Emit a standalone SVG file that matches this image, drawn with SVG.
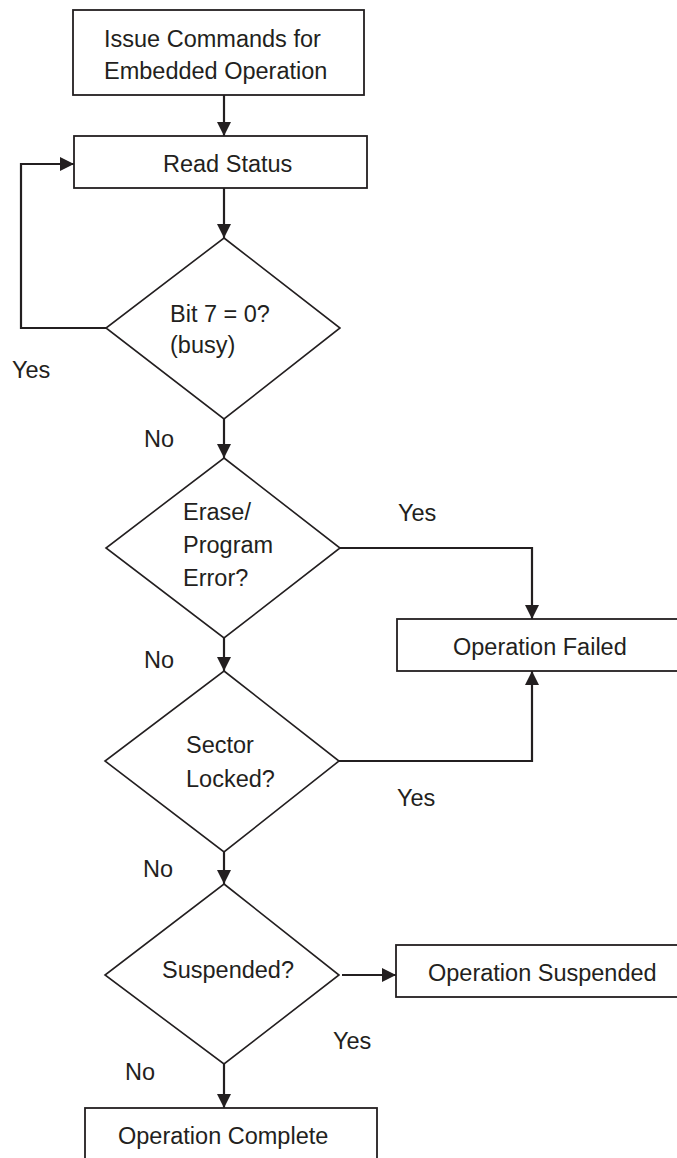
<svg xmlns="http://www.w3.org/2000/svg" width="677" height="1158" viewBox="0 0 677 1158">
<style>
.box{fill:#fff;stroke:#231f20;stroke-width:1.8}
.dia{fill:#fff;stroke:#231f20;stroke-width:1.6}
.t{font-family:"Liberation Sans",Arial,sans-serif;font-size:23.5px;fill:#231f20}
.c{text-anchor:middle}
.conn{fill:none;stroke:#231f20;stroke-width:2.2;marker-end:url(#ah)}
</style>
<defs>
<marker id="ah" markerUnits="userSpaceOnUse" markerWidth="14" markerHeight="14" refX="14" refY="7" orient="auto">
<path d="M0,0 L14,7 L0,14 Z" fill="#231f20"/>
</marker>
</defs>
<rect width="677" height="1158" fill="#fff"/>
<g id="connectors">
<path class="conn" d="M224,95 V136"/>
<path class="conn" d="M224,188 V238"/>
<path class="conn" d="M106,328 H21 V164 H74"/>
<path class="conn" d="M224,419 V458"/>
<path class="conn" d="M340,548 H532 V619"/>
<path class="conn" d="M224,638 V671"/>
<path class="conn" d="M339,761 H532 V671"/>
<path class="conn" d="M224,852 V884"/>
<path class="conn" d="M342,975 H396"/>
<path class="conn" d="M224,1064 V1108"/>
</g>
<g id="issue">
<rect class="box" x="73" y="10" width="291" height="85"/>
<text class="t" x="104" y="47">Issue Commands for</text>
<text class="t" x="104" y="79">Embedded Operation</text>
</g>
<g id="read-status">
<rect class="box" x="74" y="136" width="293" height="52"/>
<text class="t" x="163" y="172">Read Status</text>
</g>
<g id="busy">
<polygon class="dia" points="224,238 340,328 224,419 106,328"/>
<text class="t" x="170" y="322">Bit 7 = 0?</text>
<text class="t" x="170" y="353">(busy)</text>
</g>
<g id="error">
<polygon class="dia" points="224,458 340,548 224,638 106,548"/>
<text class="t" x="183" y="520">Erase/</text>
<text class="t" x="183" y="553">Program</text>
<text class="t" x="183" y="586">Error?</text>
</g>
<g id="failed">
<rect class="box" x="397" y="619" width="290" height="52"/>
<text class="t" x="453" y="655">Operation Failed</text>
</g>
<g id="locked">
<polygon class="dia" points="224,671 339,761 224,852 105,761"/>
<text class="t" x="186" y="753">Sector</text>
<text class="t" x="186" y="787">Locked?</text>
</g>
<g id="suspended-q">
<polygon class="dia" points="224,884 339,975 224,1064 105,975"/>
<text class="t" x="162" y="978">Suspended?</text>
</g>
<g id="suspended">
<rect class="box" x="396" y="945" width="295" height="52"/>
<text class="t" x="428" y="981">Operation Suspended</text>
</g>
<g id="complete">
<rect class="box" x="85" y="1108" width="292" height="60"/>
<text class="t" x="118" y="1144">Operation Complete</text>
</g>
<g id="labels">
<text class="t" x="12" y="378">Yes</text>
<text class="t" x="144" y="447">No</text>
<text class="t" x="398" y="521">Yes</text>
<text class="t" x="144" y="668">No</text>
<text class="t" x="397" y="806">Yes</text>
<text class="t" x="143" y="877">No</text>
<text class="t" x="333" y="1049">Yes</text>
<text class="t" x="125" y="1080">No</text>
</g>
</svg>
